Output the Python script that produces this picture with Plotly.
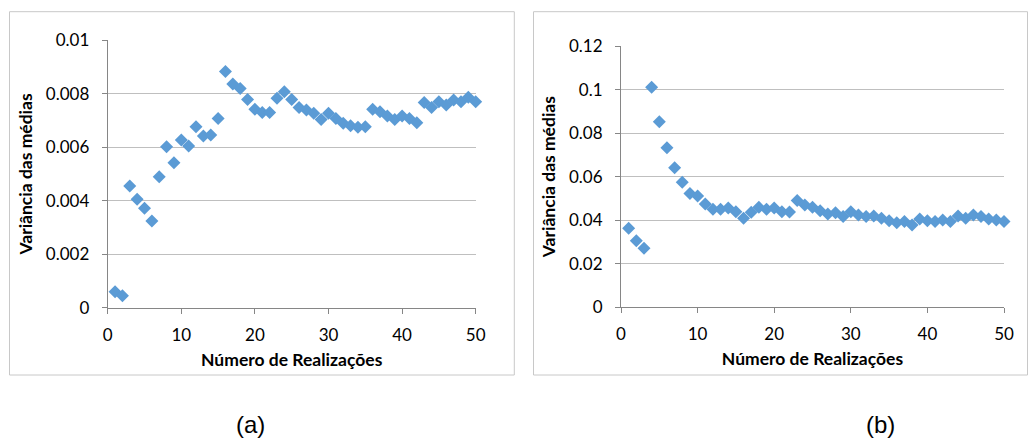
import plotly.graph_objects as go

# Number of realizations (x) shared by both panels
realizacoes = list(range(1, 51))

# Panel (a): variance of the means
variancia_a = [
    0.00060, 0.00045, 0.00455, 0.00406, 0.00372, 0.00324, 0.00490, 0.00602, 0.00542, 0.00627,
    0.00605, 0.00677, 0.00642, 0.00646, 0.00708, 0.00883, 0.00837, 0.00820, 0.00779, 0.00742,
    0.00730, 0.00730, 0.00783, 0.00808, 0.00779, 0.00749, 0.00739, 0.00727, 0.00704, 0.00727,
    0.00708, 0.00690, 0.00680, 0.00675, 0.00677, 0.00742, 0.00733, 0.00717, 0.00704, 0.00717,
    0.00708, 0.00692, 0.00767, 0.00749, 0.00770, 0.00758, 0.00777, 0.00770, 0.00787, 0.00770,
]

# Panel (b): variance of the means
variancia_b = [
    0.0362, 0.0305, 0.0270, 0.1011, 0.0853, 0.0733, 0.0641, 0.0574, 0.0523, 0.0511,
    0.0474, 0.0450, 0.0450, 0.0456, 0.0439, 0.0408, 0.0436, 0.0459, 0.0450, 0.0456,
    0.0439, 0.0437, 0.0490, 0.0470, 0.0459, 0.0443, 0.0428, 0.0434, 0.0416, 0.0439,
    0.0424, 0.0416, 0.0419, 0.0408, 0.0397, 0.0388, 0.0393, 0.0378, 0.0405, 0.0397,
    0.0393, 0.0401, 0.0393, 0.0419, 0.0408, 0.0424, 0.0416, 0.0405, 0.0401, 0.0393,
]

# Tick labels
x_ticks = [0, 10, 20, 30, 40, 50]
y_ticks_a = [0, 0.002, 0.004, 0.006, 0.008, 0.01]
y_text_a = ["0", "0.002", "0.004", "0.006", "0.008", "0.01"]
y_ticks_b = [0, 0.02, 0.04, 0.06, 0.08, 0.1, 0.12]
y_text_b = ["0", "0.02", "0.04", "0.06", "0.08", "0.1", "0.12"]

x_title = "Número de Realizações"
y_title = "Variância das médias"
panel_labels = ["(a)", "(b)"]

W, H = 1028, 444
MARKER = "#5B9BD5"
GRID = "#BFBFBF"
AXIS = "#868686"
FONT = "Lato"


def px(x):
    return x / W


def py(y):
    return 1 - y / H


fig = go.Figure()
fig.add_trace(go.Scatter(
    x=realizacoes, y=variancia_a, mode="markers", xaxis="x", yaxis="y",
    marker=dict(symbol="diamond", size=10, color=MARKER), cliponaxis=False,
    showlegend=False,
))
fig.add_trace(go.Scatter(
    x=realizacoes, y=variancia_b, mode="markers", xaxis="x2", yaxis="y2",
    marker=dict(symbol="diamond", size=10, color=MARKER), cliponaxis=False,
    showlegend=False,
))

xcommon = dict(
    range=[0, 50], tickvals=x_ticks, showgrid=False, zeroline=False, automargin=False,
    showline=True, linecolor=AXIS, linewidth=1, ticks="outside", ticklen=5,
    tickcolor=AXIS, tickfont=dict(family=FONT, size=17, color="black"),
    ticklabelstandoff=7,
    title=dict(text="<b>" + x_title + "</b>", font=dict(family=FONT, size=17.5, color="black"),
               standoff=9),
)
ycommon = dict(
    showgrid=True, gridcolor=GRID, gridwidth=1, zeroline=False, automargin=False,
    showline=True, linecolor=AXIS, linewidth=1, ticks="outside", ticklen=5,
    tickcolor=AXIS, tickfont=dict(family=FONT, size=17, color="black"),
    ticklabelstandoff=9,
    title=dict(text="<b>" + y_title + "</b>", font=dict(family=FONT, size=17.5, color="black"),
               standoff=8),
)

fig.update_layout(
    width=W, height=H,
    margin=dict(l=0, r=0, t=0, b=0, autoexpand=False),
    paper_bgcolor="white", plot_bgcolor="white",
    xaxis=dict(domain=[px(107.7), px(475.7)], anchor="y", **xcommon),
    yaxis=dict(domain=[py(307.7), py(40.3)], anchor="x", range=[0, 0.01],
               tickvals=y_ticks_a, ticktext=y_text_a, **ycommon),
    xaxis2=dict(domain=[px(621), px(1004)], anchor="y2", **xcommon),
    yaxis2=dict(domain=[py(307), py(46.3)], anchor="x2", range=[0, 0.12],
                tickvals=y_ticks_b, ticktext=y_text_b, **ycommon),
    shapes=[
        dict(type="rect", xref="paper", yref="paper",
             x0=px(9.5), x1=px(514.3), y0=py(375), y1=py(11.7),
             line=dict(color="#C8C8C8", width=1), fillcolor="rgba(0,0,0,0)", layer="below"),
        dict(type="rect", xref="paper", yref="paper",
             x0=px(533.5), x1=px(1027.5), y0=py(375), y1=py(11.7),
             line=dict(color="#C8C8C8", width=1), fillcolor="rgba(0,0,0,0)", layer="below"),
    ],
    annotations=[
        dict(text=panel_labels[0], x=px(250), y=py(440), xref="paper", yref="paper",
             xanchor="center", yanchor="bottom", showarrow=False,
             font=dict(family="Liberation Sans", size=24, color="black")),
        dict(text=panel_labels[1], x=px(880), y=py(440), xref="paper", yref="paper",
             xanchor="center", yanchor="bottom", showarrow=False,
             font=dict(family="Liberation Sans", size=24, color="black")),
    ],
)

fig.write_html("out.html")
